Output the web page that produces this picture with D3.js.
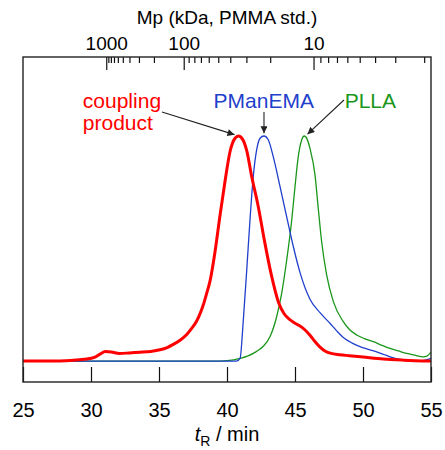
<!DOCTYPE html>
<html>
<head>
<meta charset="utf-8">
<script src="https://cdn.jsdelivr.net/npm/d3@7"></script>
<style>
    body { margin: 0; background: #fff; }
    svg text { font-family: "Liberation Sans", Arial, sans-serif; }
</style>
</head>
<body>
<svg id="chart" width="445" height="450"></svg>
<script>
// retention time (min), normalised RI signal
let coupling = [[25, 0], [27, 0], [28.5, 0.003], [29.5, 0.008], [30.3, 0.018], [30.7, 0.032], [31.05, 0.042],
    [31.5, 0.04], [32.1, 0.034], [32.8, 0.036], [33.6, 0.039], [34.4, 0.043], [35.07, 0.05], [35.6, 0.06],
    [36.05, 0.074], [36.6, 0.095], [37.04, 0.118], [37.4, 0.145], [37.77, 0.178], [38.05, 0.215], [38.26, 0.25],
    [38.5, 0.3], [38.75, 0.355], [39.12, 0.486], [39.49, 0.649], [39.85, 0.797], [40.22, 0.93], [40.59, 0.99],
    [40.85, 1.0], [41.15, 0.985], [41.45, 0.935], [41.82, 0.819], [42.3, 0.686], [42.79, 0.523], [43.29, 0.375],
    [43.77, 0.264], [44.2, 0.21], [44.6, 0.185], [45.0, 0.168], [45.4, 0.155], [45.74, 0.138], [46.1, 0.115],
    [46.45, 0.088], [46.84, 0.062], [47.2, 0.045], [47.6, 0.035], [48.3, 0.028], [49, 0.024], [50, 0.018],
    [51.5, 0.009], [53, 0.004], [55, 0]];

let pmanema = [[25, 0], [40.7, 0], [40.96, 0.012], [41.2, 0.182], [41.45, 0.404], [41.69, 0.627], [41.93, 0.819],
    [42.18, 0.938], [42.43, 0.99], [42.72, 1.0], [43.04, 0.982], [43.4, 0.908], [43.9, 0.775], [44.39, 0.641],
    [44.88, 0.508], [45.37, 0.393], [46.1, 0.275], [46.84, 0.215], [47.57, 0.168], [48.1, 0.132], [48.55, 0.105],
    [49.2, 0.08], [49.78, 0.064], [50.4, 0.052], [51.0, 0.041], [51.5, 0.03], [51.99, 0.019], [52.5, 0.01],
    [52.96, 0.004], [53.95, 0], [54.5, 0.003], [55, 0.012]];

let plla = [[25, 0], [39.5, 0], [40.5, 0.005], [40.96, 0.012], [41.5, 0.022], [41.93, 0.034], [42.3, 0.048],
    [42.67, 0.066], [43.16, 0.108], [43.65, 0.197], [44.02, 0.301], [44.39, 0.449], [44.76, 0.627], [45.0, 0.775],
    [45.24, 0.908], [45.49, 0.982], [45.68, 1.0], [45.9, 0.985], [46.1, 0.945], [46.47, 0.827], [46.71, 0.679],
    [46.96, 0.53], [47.33, 0.382], [47.82, 0.264], [48.55, 0.175], [49, 0.14], [49.54, 0.116], [50.1, 0.1],
    [50.76, 0.086], [51.4, 0.07], [51.99, 0.056], [52.6, 0.045], [53.21, 0.034], [53.8, 0.026], [54.43, 0.019],
    [54.7, 0.022], [55, 0.04]];

let tTicks = [25, 30, 35, 40, 45, 50, 55];

// PMMA calibration: tR = c0 + c1*L + c2*L^2 + c3*L^3, L = log10(Mp / kDa)
let calib = [58.254, -12.494, 0.383, 0.257];
let mpTicks = [1000, 900, 800, 700, 600, 500, 400, 300, 200,
    100, 90, 80, 70, 60, 50, 40, 30, 20,
    10, 9, 8, 7, 6, 5, 4, 3, 2];
let mpLabels = [1000, 100, 10];

let labels = [
    {text: ["coupling", "product"], t: 29.4, v: 1.124, color: "#ff0000", anchor: "start"},
    {text: ["PManEMA"], t: 42.7, v: 1.124, color: "#1f3fcc", anchor: "middle"},
    {text: ["PLLA"], t: 48.65, v: 1.124, color: "#1a961a", anchor: "start"}
];
let arrows = [
    {from: [35.22, 1.107], to: [40.55, 1.006]},
    {from: [42.72, 1.107], to: [42.72, 1.012]},
    {from: [48.6, 1.16], to: [45.92, 1.008]}
];

let svg = d3.select("#chart");
let margin = {left: 23, right: 14, top: 57, bottom: 68};
let width = 445 - margin.left - margin.right;
let height = 450 - margin.top - margin.bottom;

let x = d3.scaleLinear().domain([25, 55]).range([0, width]);
let y = d3.scaleLinear().domain([-0.093, 1.351]).range([height, 0]);

function mpToT(m) {
    let L = Math.log10(m);
    return calib[0] + calib[1] * L + calib[2] * L * L + calib[3] * L * L * L;
}

let g = svg.append("g")
    .attr("transform", "translate(" + margin.left + "," + margin.top + ")");

svg.append("defs").append("clipPath")
    .attr("id", "plotclip")
    .append("rect")
    .attr("width", width)
    .attr("height", height);

svg.select("defs").append("marker")
    .attr("id", "head")
    .attr("viewBox", "0 0 10 10")
    .attr("refX", 10)
    .attr("refY", 5)
    .attr("markerWidth", 8)
    .attr("markerHeight", 7)
    .attr("markerUnits", "userSpaceOnUse")
    .attr("orient", "auto")
    .append("path")
    .attr("d", "M0,0 L10,5 L0,10 z")
    .attr("fill", "#222");

let line = d3.line()
    .x(function (d) { return x(d[0]); })
    .y(function (d) { return y(d[1]); })
    .curve(d3.curveMonotoneX);

let curves = g.append("g").attr("clip-path", "url(#plotclip)");
let series = [
    {data: plla, color: "#1a961a", w: 1.3},
    {data: pmanema, color: "#1f3fcc", w: 1.3},
    {data: coupling, color: "#ff0000", w: 3}
];
curves.selectAll("path")
    .data(series)
    .enter().append("path")
    .attr("d", function (d) { return line(d.data); })
    .attr("fill", "none")
    .attr("stroke", function (d) { return d.color; })
    .attr("stroke-width", function (d) { return d.w; })
    .attr("stroke-linejoin", "round");

// bottom axis, ticks inward
let xAxis = g.append("g")
    .attr("transform", "translate(0," + height + ")")
    .call(d3.axisBottom(x).tickValues(tTicks).tickSizeInner(-15).tickSizeOuter(0).tickPadding(21));
xAxis.select(".domain").remove();
xAxis.selectAll("line").attr("stroke", "#111").attr("stroke-width", 1.2);
xAxis.selectAll("text").attr("font-size", 20).attr("fill", "#000");

// top axis: Mp via calibration
let topAxis = g.append("g");
topAxis.selectAll("line")
    .data(mpTicks)
    .enter().append("line")
    .attr("x1", function (d) { return x(mpToT(d)); })
    .attr("x2", function (d) { return x(mpToT(d)); })
    .attr("y1", 0)
    .attr("y2", function (d) { return mpLabels.indexOf(d) >= 0 ? 13 : 6; })
    .attr("stroke", "#111")
    .attr("stroke-width", 1.2);
topAxis.selectAll("text")
    .data(mpLabels)
    .enter().append("text")
    .attr("x", function (d) { return x(mpToT(d)); })
    .attr("y", -7)
    .attr("text-anchor", "middle")
    .attr("font-size", 19)
    .text(function (d) { return d; });

// frame
g.append("rect")
    .attr("width", width)
    .attr("height", height)
    .attr("fill", "none")
    .attr("stroke", "#222")
    .attr("stroke-width", 1.4);

svg.append("text")
    .attr("x", margin.left + width / 2)
    .attr("y", 24)
    .attr("text-anchor", "middle")
    .attr("font-size", 19)
    .text("Mp (kDa, PMMA std.)");

let xt = svg.append("text")
    .attr("x", margin.left + width / 2)
    .attr("y", 441)
    .attr("text-anchor", "middle")
    .attr("font-size", 20);
xt.append("tspan").attr("font-style", "italic").text("t");
xt.append("tspan").attr("font-size", 14).attr("dy", 5).text("R");
xt.append("tspan").attr("dy", -5).text(" / min");

// annotations
labels.forEach(function (l) {
    let t = g.append("text")
        .attr("x", x(l.t))
        .attr("y", y(l.v))
        .attr("text-anchor", l.anchor)
        .attr("font-size", 21)
        .attr("fill", l.color);
    l.text.forEach(function (s, i) {
        t.append("tspan")
            .attr("x", x(l.t))
            .attr("dy", i === 0 ? 0 : 22)
            .text(s);
    });
});

g.selectAll(".arrow")
    .data(arrows)
    .enter().append("line")
    .attr("class", "arrow")
    .attr("x1", function (d) { return x(d.from[0]); })
    .attr("y1", function (d) { return y(d.from[1]); })
    .attr("x2", function (d) { return x(d.to[0]); })
    .attr("y2", function (d) { return y(d.to[1]); })
    .attr("stroke", "#222")
    .attr("stroke-width", 1.1)
    .attr("marker-end", "url(#head)");
</script>
</body>
</html>
